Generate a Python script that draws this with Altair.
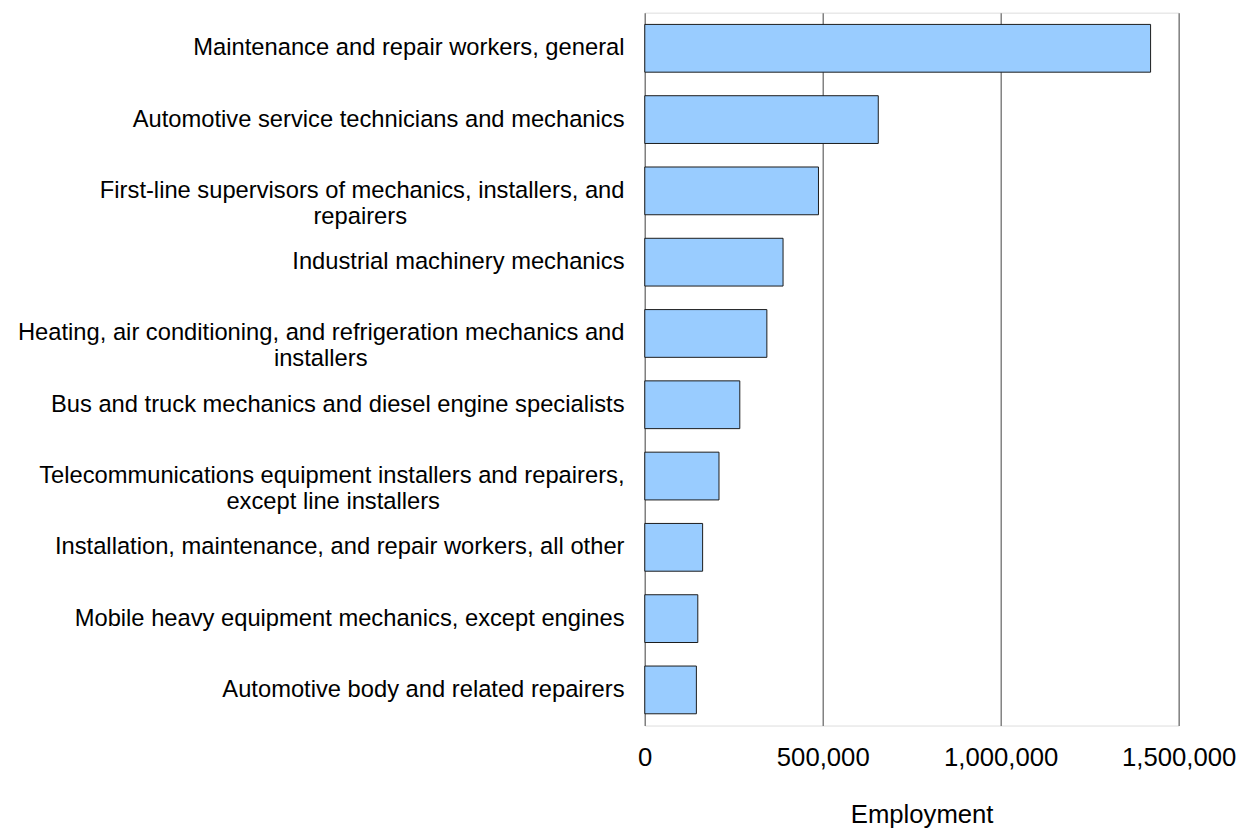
import altair as alt
import pandas as pd

# Occupations (line breaks marked with "|") and employment values
occupations = [
    "Maintenance and repair workers, general",
    "Automotive service technicians and mechanics",
    "First-line supervisors of mechanics, installers, and|repairers",
    "Industrial machinery mechanics",
    "Heating, air conditioning, and refrigeration mechanics and|installers",
    "Bus and truck mechanics and diesel engine specialists",
    "Telecommunications equipment installers and repairers,|except line installers",
    "Installation, maintenance, and repair workers, all other",
    "Mobile heavy equipment mechanics, except engines",
    "Automotive body and related repairers",
]
employment = [1421000, 656000, 488000, 388500, 343000, 267000, 208500, 162500, 149000, 145000]

x_ticks = [0, 500000, 1000000, 1500000]

# Arial / Liberation Sans advance widths (1/1000 em) to centre the second line
W = {" ": 278, ",": 278, "-": 333, "A": 667, "B": 667, "E": 667, "F": 611, "H": 722,
     "I": 278, "M": 833, "T": 611,
     "a": 556, "b": 556, "c": 500, "d": 556, "e": 556, "f": 278, "g": 556, "h": 556,
     "i": 222, "j": 222, "k": 500, "l": 222, "m": 833, "n": 556, "o": 556, "p": 556,
     "q": 556, "r": 333, "s": 500, "t": 278, "u": 556, "v": 500, "w": 722, "x": 500,
     "y": 500, "z": 500}


def tw(s):
    return sum(W.get(c, 556) for c in s)


def centre_lines(label):
    parts = label.split("|")
    if len(parts) == 1:
        return label
    w1 = tw(parts[0])
    w2 = tw(parts[1])
    n = max(0, round((w1 - w2) / 2 / 278))
    return parts[0] + "|" + parts[1] + "\u00a0" * n + "\u2060"


labels = [centre_lines(s) for s in occupations]

df = pd.DataFrame({"Occupation": labels, "Employment": employment})

chart = (
    alt.Chart(df)
    .mark_bar(color="#99CCFF", stroke="#1a1a1a", strokeWidth=1)
    .encode(
        x=alt.X(
            "Employment:Q",
            scale=alt.Scale(domain=[0, 1500000], nice=False),
            axis=alt.Axis(
                values=x_ticks,
                format=",d",
                title="Employment",
                grid=True,
                gridColor="#808080",
                gridWidth=1.5,
                ticks=False,
                domain=False,
                labelFont="Liberation Sans",
                labelFontSize=26,
                labelColor="#000000",
                labelPadding=19,
                labelFlush=False,
                titleFont="Liberation Sans",
                titleFontSize=26,
                titleFontWeight="normal",
                titleColor="#000000",
                titlePadding=32,
                titleX=280,
                titleAlign="center",
            ),
        ),
        y=alt.Y(
            "Occupation:N",
            sort=labels,
            scale=alt.Scale(paddingInner=0.33, paddingOuter=0.165),
            axis=alt.Axis(
                title=None,
                ticks=False,
                domain=False,
                grid=False,
                labelFont="Liberation Sans",
                labelFontSize=24,
                labelColor="#000000",
                labelPadding=21,
                labelLimit=0,
                labelLineHeight=26,
                labelExpr="split(datum.label, '|')",
            ),
        ),
    )
    .properties(
        width=540,
        height=721,
        padding={"left": 9, "top": 0, "right": 5, "bottom": 5},
    )
    .configure_view(stroke="#808080", strokeWidth=1.5)
    .configure(background="#ffffff")
)

chart.save("out.html", embed_options={"renderer": "svg", "actions": False})
